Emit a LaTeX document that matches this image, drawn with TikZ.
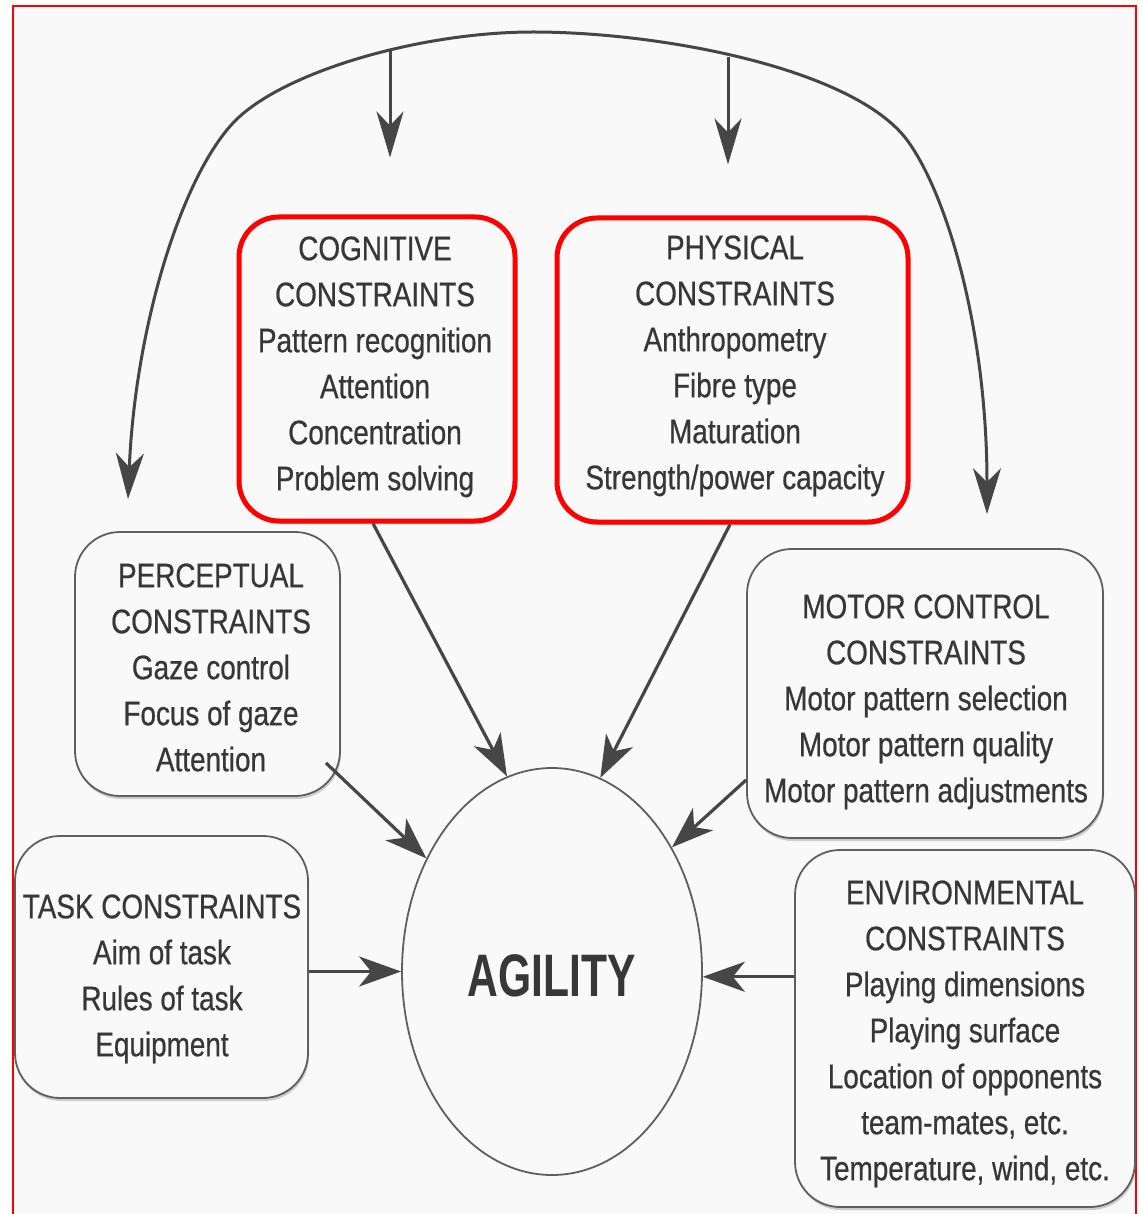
\documentclass[tikz,border=0pt]{standalone}
\usepackage{fontspec}
\setmainfont{Liberation Sans}[FakeStretch=0.82,FakeBold=0.6]
\newfontfamily\agfont{Liberation Sans}[FakeStretch=0.71]
\usetikzlibrary{arrows.meta,shapes.geometric,shadows}
\definecolor{bg}{RGB}{249,249,249}
\definecolor{ink}{RGB}{55,55,55}
\definecolor{ln}{RGB}{70,70,70}
\definecolor{bx}{RGB}{95,95,95}
\begin{document}
\begin{tikzpicture}[x=1pt,y=-1pt,
  shad/.style={drop shadow={shadow xshift=1pt, shadow yshift=-3pt, opacity=0.3, fill=black!60}},
  cbox/.style={draw=bx, line width=1.8pt, rounded corners=45pt, inner sep=0pt, fill=bg, shad},
  rbox/.style={draw=red, line width=5pt, rounded corners=40pt, inner sep=0pt, fill=bg, shad},
  txt/.style={font=\fontsize{34}{46}\selectfont, align=center, inner sep=0pt, text=ink},
  arr/.style={draw=ln, line width=3.2pt, -{Stealth[length=42pt,width=30pt,inset=12pt]}},
  varr/.style={draw=ln, line width=3pt, -{Stealth[length=46pt,width=27pt,inset=14pt]}},
  arcarr/.style={draw=ln, line width=3pt, {Stealth[length=46pt,width=28pt,inset=14pt]}-{Stealth[length=46pt,width=28pt,inset=14pt]}}
]
\useasboundingbox (0,0) rectangle (1142,1214);
\fill[white] (0,0) rectangle (1142,1214);
\fill[bg] (13,6) rectangle (1136,1214);
\draw[red, line width=2pt] (13,1214) -- (13,6) -- (1136,6) -- (1136,1214);

% boxes
\node[rbox, minimum width=276pt, minimum height=304pt] (cog) at (377,369) {};
\node[txt] (cogt) at (375,366) {\strut COGNITIVE\\CONSTRAINTS\\Pattern recognition\\Attention\\Concentration\\Problem solving\strut};

\node[rbox, minimum width=351pt, minimum height=304pt] (phy) at (732.5,370) {};
\node[txt] (phyt) at (735,365) {\strut PHYSICAL\\CONSTRAINTS\\Anthropometry\\Fibre type\\Maturation\\Strength/power capacity\strut};

\node[cbox, minimum width=265pt, minimum height=264pt] (per) at (207.5,664) {};
\node[txt] (pert) at (211,670) {\strut PERCEPTUAL\\CONSTRAINTS\\Gaze control\\Focus of gaze\\Attention\strut};

\node[cbox, minimum width=356pt, minimum height=289pt] (mot) at (925,693.5) {};
\node[txt] (mott) at (926,701) {\strut MOTOR CONTROL\\CONSTRAINTS\\Motor pattern selection\\Motor pattern quality\\Motor pattern adjustments\strut};

\node[cbox, minimum width=293pt, minimum height=262pt] (task) at (161.5,967) {};
\node[txt] (taskt) at (162,978) {\strut TASK CONSTRAINTS\\Aim of task\\Rules of task\\Equipment\strut};

\node[cbox, minimum width=340pt, minimum height=357pt] (env) at (965,1028.5) {};
\node[txt] (envt) at (965,1033) {\strut ENVIRONMENTAL\\CONSTRAINTS\\Playing dimensions\\Playing surface\\Location of opponents\\team-mates, etc.\\Temperature, wind, etc.\strut};

% central ellipse
\node[ellipse, draw=bx, line width=1.8pt, fill=bg, minimum width=300pt, minimum height=407pt, inner sep=0pt] (ag) at (552,971.5) {};
\node[inner sep=0pt, text=ink, font=\agfont\bfseries\fontsize{60}{70}\selectfont] (agt) at (552,976) {AGILITY};

% arrows into agility
\draw[arr] ([xshift=-4pt]cog.south) -- (ag.103);
\draw[arr] ([xshift=-2.5pt]phy.south) -- (ag.76);
\draw[arr] ([shift={(-15,-34)}]per.south east) -- (ag.138);
\draw[arr] ([yshift=-86.5pt]mot.west) -- (ag.46);
\draw[arr] (task.east |- ag.west) -- (ag.west);
\draw[arr] (env.west |- ag.-2) -- (ag.-2);

% big arc
\draw[arcarr] ([shift={(-79.5,-32)}]per.north)
  .. controls (135,330) and (180,180) .. (233,123)
  .. controls (281,72) and (420,32) .. (533,32)
  .. controls (660,32) and (853,68) .. (907,140)
  .. controls (947,194) and (987,330) .. ([shift={(62,-34)}]mot.north);
\coordinate (a1) at (390,50);
\coordinate (a2) at (728,57);
\draw[varr, shorten >=57pt] (a1) -- (a1 |- cog.north);
\draw[varr, shorten >=51pt] (a2) -- (a2 |- phy.north);
\end{tikzpicture}
\end{document}
